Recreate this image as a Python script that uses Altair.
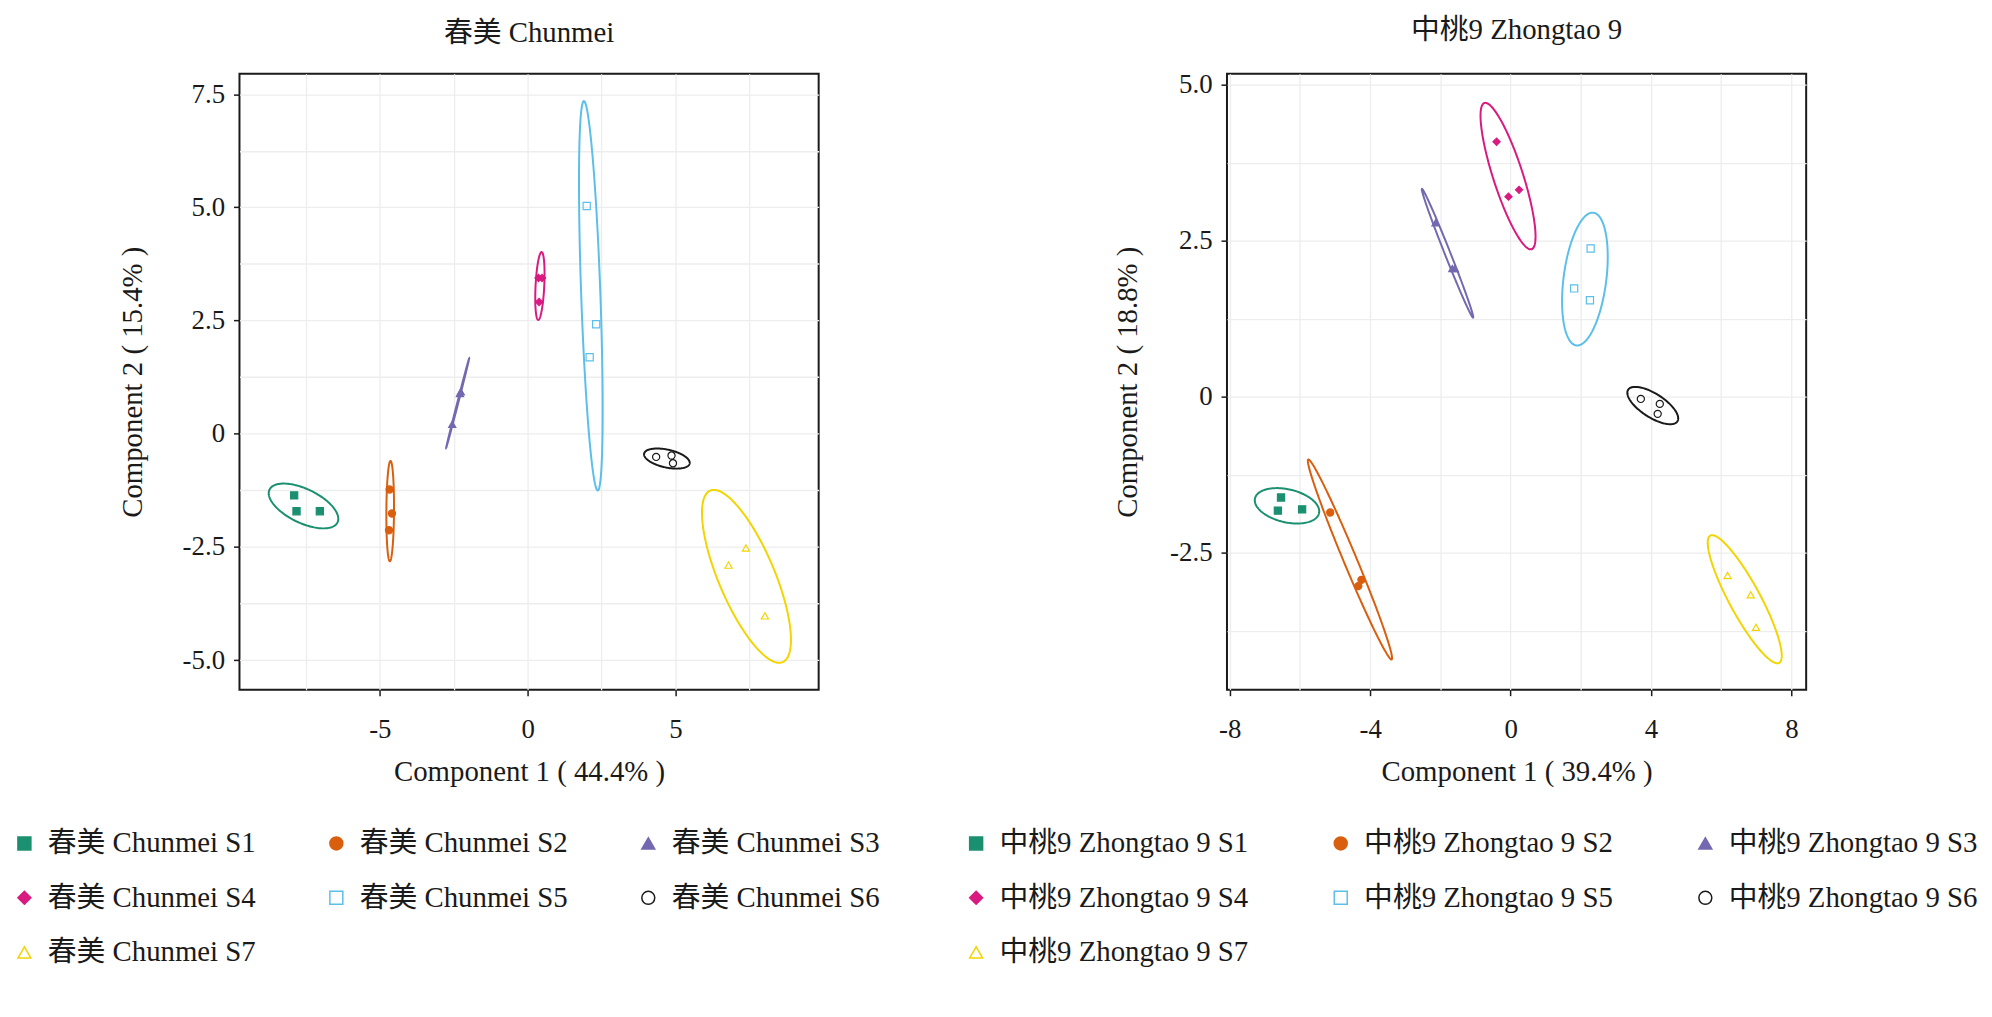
import altair as alt
import numpy as np
import pandas as pd

FONT = "Liberation Serif, 'Noto Sans CJK SC', serif"

GROUPS = ["S1", "S2", "S3", "S4", "S5", "S6", "S7"]
COLORS = ["#1B9070", "#D95F0E", "#7469B0", "#D91A80", "#5BBFEA", "#1A1A1A", "#F2D500"]
FILLS = ["#1B9070", "#D95F0E", "#7469B0", "#D91A80", "transparent", "transparent", "transparent"]
SHAPES = ["square", "circle", "triangle-up", "diamond", "square", "circle", "triangle-up"]

# 春美 Chunmei : component scores (3 replicates per stage)
CM_X = [[-7.90, -7.82, -7.03], [-4.67, -4.59, -4.69], [-2.55, -2.29, -2.26],
        [0.37, 0.49, 0.39], [2.00, 2.32, 2.10], [4.35, 4.87, 4.92], [7.39, 6.80, 8.03]]
CM_Y = [[-1.36, -1.71, -1.71], [-1.23, -1.76, -2.13], [0.21, 0.89, 0.93],
        [3.44, 3.44, 2.91], [5.03, 2.42, 1.69], [-0.51, -0.48, -0.65], [-2.52, -2.90, -4.02]]

# 中桃9 Zhongtao 9
ZT_X = [[-6.54, -6.63, -5.94], [-5.14, -4.25, -4.34], [-2.14, -1.66, -1.59],
        [-0.40, -0.06, 0.24], [2.28, 1.81, 2.26], [3.71, 4.25, 4.19], [6.18, 6.84, 6.99]]
ZT_Y = [[-1.61, -1.82, -1.80], [-1.85, -2.93, -3.03], [2.79, 2.06, 2.06],
        [4.09, 3.21, 3.32], [2.38, 1.74, 1.55], [-0.03, -0.11, -0.27], [-2.86, -3.17, -3.69]]

CM_XGRID = [-7.5, -5, -2.5, 0, 2.5, 5, 7.5]
CM_YGRID = [-5.0, -3.75, -2.5, -1.25, 0, 1.25, 2.5, 3.75, 5.0, 6.25, 7.5]
ZT_XGRID = [-8, -6, -4, -2, 0, 2, 4, 6, 8]
ZT_YGRID = [-3.75, -2.5, -1.25, 0, 1.25, 2.5, 3.75, 5.0]

CHI2_95_DF2 = 5.991464547107979


def ellipse_frame(xs_list, ys_list, labels, n=160):
    rows = []
    r = np.sqrt(CHI2_95_DF2)
    t = np.linspace(0, 2 * np.pi, n + 1)
    circ = np.vstack([np.cos(t), np.sin(t)])
    for lab, clr, xs, ys in zip(labels, COLORS, xs_list, ys_list):
        pts = np.column_stack([xs, ys])
        c = pts.mean(axis=0)
        cov = np.cov(pts.T)
        vals, vecs = np.linalg.eigh(cov)
        vals = np.clip(vals, 0, None)
        e = c[:, None] + vecs @ (np.sqrt(vals)[:, None] * r * circ)
        for i in range(n + 1):
            rows.append({"grp": lab, "clr": clr, "i": i, "x": e[0, i], "y": e[1, i]})
    return pd.DataFrame(rows)


def point_frame(xs_list, ys_list, labels):
    rows = []
    for lab, xs, ys in zip(labels, xs_list, ys_list):
        for x, y in zip(xs, ys):
            rows.append({"group": lab, "x": x, "y": y})
    return pd.DataFrame(rows)


def num_label(step, decimals):
    fmt = ".1f" if decimals else "d"
    return (f"abs(datum.value / {step} - round(datum.value / {step})) > 0.001 ? '' : "
            f"(abs(datum.value) < 1e-9 ? '0' : (datum.value < 0 ? '-' : '') + format(abs(datum.value), '{fmt}'))")


def tick_cond(step):
    return {"condition": {"test": f"abs(datum.value / {step} - round(datum.value / {step})) > 0.001",
                          "value": "transparent"}, "value": "#1a1a1a"}


def panel(name, xs, ys, xdom, ydom, xgrid, ygrid, xstep, ystep, xdec, ydec,
          xtitle, ytitle, legx, colpad, ytp):
    labels = [f"{name} {g}" for g in GROUPS]
    pts = point_frame(xs, ys, labels)
    ell = ellipse_frame(xs, ys, labels)

    legend = alt.Legend(orient="none", legendX=legx, legendY=760, columns=3, direction="horizontal",
                        title=None, symbolSize=170, symbolStrokeWidth=1.5, labelFont=FONT,
                        labelFontSize=29, labelColor="#1a1a1a", labelOffset=9,
                        rowPadding=25, columnPadding=colpad, gridAlign="all",
                        padding=0, labelLimit=500)

    xscale = alt.Scale(domain=xdom, nice=False, zero=False)
    yscale = alt.Scale(domain=ydom, nice=False, zero=False)
    xaxis = alt.Axis(values=xgrid, labelExpr=num_label(xstep, xdec), tickColor=tick_cond(xstep),
                     title=xtitle, titlePadding=15, labelPadding=21, labelFlush=False)
    yaxis = alt.Axis(values=ygrid, labelExpr=num_label(ystep, ydec), tickColor=tick_cond(ystep),
                     title=ytitle, titlePadding=ytp, labelPadding=9)

    lines = alt.Chart(ell).mark_line(strokeWidth=2, clip=True).encode(
        x=alt.X("x:Q", scale=xscale, axis=xaxis),
        y=alt.Y("y:Q", scale=yscale, axis=yaxis),
        stroke=alt.Stroke("clr:N", scale=None),
        detail="grp:N",
        order="i:Q",
    )
    points = alt.Chart(pts).mark_point(size=52, strokeWidth=1.2, opacity=1, clip=True).encode(
        x=alt.X("x:Q", scale=xscale),
        y=alt.Y("y:Q", scale=yscale),
        stroke=alt.Stroke("group:N", scale=alt.Scale(domain=labels, range=COLORS), legend=legend),
        fill=alt.Fill("group:N", scale=alt.Scale(domain=labels, range=FILLS), legend=legend),
        shape=alt.Shape("group:N", scale=alt.Scale(domain=labels, range=SHAPES), legend=legend),
    )
    return alt.layer(lines, points).properties(
        width=583, height=620,
        title=alt.TitleParams(name, font=FONT, fontSize=29, fontWeight="normal",
                              color="#1a1a1a", anchor="middle", offset=26),
    )


left = panel("春美 Chunmei", CM_X, CM_Y, [-9.75, 9.85], [-5.65, 7.95], CM_XGRID, CM_YGRID,
             5, 2.5, False, True, "Component 1 ( 44.4% )", "Component 2 ( 15.4% )", -231, 66, 35)
right = panel("中桃9 Zhongtao 9", ZT_X, ZT_Y, [-8.08, 8.42], [-4.69, 5.18], ZT_XGRID, ZT_YGRID,
              4, 2.5, False, True, "Component 1 ( 39.4% )", "Component 2 ( 18.8% )", -267, 78, 27)

chart = alt.hconcat(left, right, spacing=411, bounds="flush").resolve_scale(
    stroke="independent", fill="independent", shape="independent",
    x="independent", y="independent"
).resolve_legend(stroke="independent", fill="independent", shape="independent").properties(
    padding={"left": 1, "top": 4, "right": 5, "bottom": 5}, background="white"
).configure_view(stroke="#1a1a1a", strokeWidth=2).configure_axis(
    labelFont=FONT, labelFontSize=27, labelColor="#1a1a1a",
    titleFont=FONT, titleFontSize=29, titleFontWeight="normal", titleColor="#1a1a1a",
    domain=False, tickSize=6, tickWidth=1.5,
    gridColor="#EDEDED", gridWidth=1.3,
)

chart.save("out.html", embed_options={"renderer": "svg", "actions": False})
